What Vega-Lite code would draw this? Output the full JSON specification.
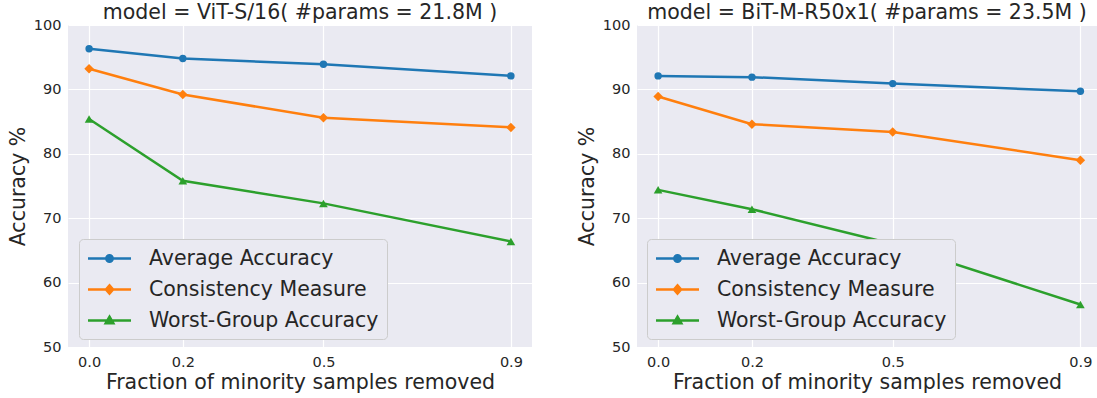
{
  "$schema": "https://vega.github.io/schema/vega-lite/v6.json",
  "background": "white",
  "padding": {"left": 8, "top": 2, "right": 0, "bottom": 0},
  "datasets": {
    "acc": [
      {"model": "vit", "frac": 0.0, "metric": "Average Accuracy", "acc": 96.3},
      {"model": "vit", "frac": 0.2, "metric": "Average Accuracy", "acc": 94.8},
      {"model": "vit", "frac": 0.5, "metric": "Average Accuracy", "acc": 93.9},
      {"model": "vit", "frac": 0.9, "metric": "Average Accuracy", "acc": 92.1},
      {"model": "vit", "frac": 0.0, "metric": "Consistency Measure", "acc": 93.2},
      {"model": "vit", "frac": 0.2, "metric": "Consistency Measure", "acc": 89.2},
      {"model": "vit", "frac": 0.5, "metric": "Consistency Measure", "acc": 85.6},
      {"model": "vit", "frac": 0.9, "metric": "Consistency Measure", "acc": 84.1},
      {"model": "vit", "frac": 0.0, "metric": "Worst-Group Accuracy", "acc": 85.4},
      {"model": "vit", "frac": 0.2, "metric": "Worst-Group Accuracy", "acc": 75.8},
      {"model": "vit", "frac": 0.5, "metric": "Worst-Group Accuracy", "acc": 72.3},
      {"model": "vit", "frac": 0.9, "metric": "Worst-Group Accuracy", "acc": 66.4},
      {"model": "bit", "frac": 0.0, "metric": "Average Accuracy", "acc": 92.1},
      {"model": "bit", "frac": 0.2, "metric": "Average Accuracy", "acc": 91.9},
      {"model": "bit", "frac": 0.5, "metric": "Average Accuracy", "acc": 90.9},
      {"model": "bit", "frac": 0.9, "metric": "Average Accuracy", "acc": 89.7},
      {"model": "bit", "frac": 0.0, "metric": "Consistency Measure", "acc": 88.9},
      {"model": "bit", "frac": 0.2, "metric": "Consistency Measure", "acc": 84.6},
      {"model": "bit", "frac": 0.5, "metric": "Consistency Measure", "acc": 83.4},
      {"model": "bit", "frac": 0.9, "metric": "Consistency Measure", "acc": 79.0},
      {"model": "bit", "frac": 0.0, "metric": "Worst-Group Accuracy", "acc": 74.4},
      {"model": "bit", "frac": 0.2, "metric": "Worst-Group Accuracy", "acc": 71.4},
      {"model": "bit", "frac": 0.5, "metric": "Worst-Group Accuracy", "acc": 66.0},
      {"model": "bit", "frac": 0.9, "metric": "Worst-Group Accuracy", "acc": 56.6}
    ]
  },
  "config": {
    "font": "DejaVu Sans",
    "view": {"stroke": null, "fill": "#eaeaf2"},
    "axis": {
      "domain": false,
      "ticks": false,
      "grid": true,
      "gridColor": "#ffffff",
      "gridWidth": 1.2,
      "labelFont": "DejaVu Sans",
      "labelFontSize": 14.5,
      "labelColor": "#262626",
      "titleFont": "DejaVu Sans",
      "titleFontSize": 20.5,
      "titleFontWeight": "normal",
      "titleColor": "#262626"
    },
    "title": {"font": "DejaVu Sans", "fontSize": 20.5, "fontWeight": "normal", "color": "#262626", "baseline": "alphabetic", "offset": -6, "frame": "group"},
    "legend": {
      "orient": "none",
      "legendX": 11,
      "legendY": 214,
      "padding": 8,
      "fillColor": "#eaeaf2",
      "strokeColor": "#cccccc",
      "cornerRadius": 4,
      "labelFont": "DejaVu Sans",
      "labelFontSize": 20.5,
      "labelColor": "#262626",
      "labelLimit": 0,
      "symbolSize": 400,
      "rowPadding": 9,
      "symbolOffset": 11,
      "labelOffset": 28,
      "title": null
    }
  },
  "resolve": {"scale": {"color": "independent", "x": "independent"}, "legend": {"color": "independent"}},
  "spacing": 45,
  "hconcat": [
    {
      "title": "model = ViT-S/16( #params = 21.8M )",
      "width": 464,
      "height": 322,
      "data": {"name": "acc"},
      "transform": [{"filter": "datum.model === 'vit'"}],
      "encoding": {
        "x": {"field": "frac", "type": "quantitative", "scale": {"domain": [-0.045, 0.945], "nice": false, "zero": false},
              "axis": {"values": [0, 0.2, 0.5, 0.9], "format": ".1f", "labelPadding": 8, "titlePadding": 4, "title": "Fraction of minority samples removed"}},
        "y": {"field": "acc", "type": "quantitative", "scale": {"domain": [50, 100], "nice": false, "zero": false},
              "axis": {"values": [50, 60, 70, 80, 90, 100], "labelPadding": 7, "titlePadding": 5, "title": "Accuracy %"}},
        "color": {"field": "metric", "type": "nominal",
          "scale": {"domain": ["Average Accuracy", "Consistency Measure", "Worst-Group Accuracy"], "range": ["#1f77b4", "#ff7f0e", "#2ca02c"]},
          "legend": {
            "encode": {"symbols": {"update": {
              "shape": {"signal": "datum.value === 'Average Accuracy' ? 'M-2.15,0H2.15M0.32,0A0.32,0.32,0,1,1,-0.32,0A0.32,0.32,0,1,1,0.32,0Z' : datum.value === 'Consistency Measure' ? 'M-2.15,0H2.15M0,-0.42L0.36,0L0,0.42L-0.36,0Z' : 'M-2.15,0H2.15M0,-0.38L0.38,0.28L-0.38,0.28Z'"},
              "fill": {"signal": "datum.value === 'Average Accuracy' ? '#1f77b4' : datum.value === 'Consistency Measure' ? '#ff7f0e' : '#2ca02c'"},
              "stroke": {"signal": "datum.value === 'Average Accuracy' ? '#1f77b4' : datum.value === 'Consistency Measure' ? '#ff7f0e' : '#2ca02c'"},
              "strokeWidth": {"value": 2.5},
              "opacity": {"value": 1}
            }}}
          }}
      },
      "layer": [
        {"mark": {"type": "line", "strokeWidth": 2.5}},
        {"transform": [{"filter": "datum.metric === 'Average Accuracy'"}], "mark": {"type": "point", "filled": true, "size": 55, "opacity": 1, "shape": "circle"}},
        {"transform": [{"filter": "datum.metric === 'Consistency Measure'"}], "mark": {"type": "point", "filled": true, "size": 90, "opacity": 1, "shape": "diamond"}},
        {"transform": [{"filter": "datum.metric === 'Worst-Group Accuracy'"}], "mark": {"type": "point", "filled": true, "size": 75, "opacity": 1, "shape": "triangle-up"}}
      ]
    },
    {
      "title": "model = BiT-M-R50x1( #params = 23.5M )",
      "width": 460,
      "height": 322,
      "data": {"name": "acc"},
      "transform": [{"filter": "datum.model === 'bit'"}],
      "encoding": {
        "x": {"field": "frac", "type": "quantitative", "scale": {"domain": [-0.045, 0.9354], "nice": false, "zero": false},
              "axis": {"values": [0, 0.2, 0.5, 0.9], "format": ".1f", "labelPadding": 8, "titlePadding": 4, "title": "Fraction of minority samples removed"}},
        "y": {"field": "acc", "type": "quantitative", "scale": {"domain": [50, 100], "nice": false, "zero": false},
              "axis": {"values": [50, 60, 70, 80, 90, 100], "labelPadding": 7, "titlePadding": 5, "title": "Accuracy %"}},
        "color": {"field": "metric", "type": "nominal",
          "scale": {"domain": ["Average Accuracy", "Consistency Measure", "Worst-Group Accuracy"], "range": ["#1f77b4", "#ff7f0e", "#2ca02c"]},
          "legend": {
            "legendX": 10,
            "encode": {"symbols": {"update": {
              "shape": {"signal": "datum.value === 'Average Accuracy' ? 'M-2.15,0H2.15M0.32,0A0.32,0.32,0,1,1,-0.32,0A0.32,0.32,0,1,1,0.32,0Z' : datum.value === 'Consistency Measure' ? 'M-2.15,0H2.15M0,-0.42L0.36,0L0,0.42L-0.36,0Z' : 'M-2.15,0H2.15M0,-0.38L0.38,0.28L-0.38,0.28Z'"},
              "fill": {"signal": "datum.value === 'Average Accuracy' ? '#1f77b4' : datum.value === 'Consistency Measure' ? '#ff7f0e' : '#2ca02c'"},
              "stroke": {"signal": "datum.value === 'Average Accuracy' ? '#1f77b4' : datum.value === 'Consistency Measure' ? '#ff7f0e' : '#2ca02c'"},
              "strokeWidth": {"value": 2.5},
              "opacity": {"value": 1}
            }}}
          }}
      },
      "layer": [
        {"mark": {"type": "line", "strokeWidth": 2.5}},
        {"transform": [{"filter": "datum.metric === 'Average Accuracy'"}], "mark": {"type": "point", "filled": true, "size": 55, "opacity": 1, "shape": "circle"}},
        {"transform": [{"filter": "datum.metric === 'Consistency Measure'"}], "mark": {"type": "point", "filled": true, "size": 90, "opacity": 1, "shape": "diamond"}},
        {"transform": [{"filter": "datum.metric === 'Worst-Group Accuracy'"}], "mark": {"type": "point", "filled": true, "size": 75, "opacity": 1, "shape": "triangle-up"}}
      ]
    }
  ]
}
